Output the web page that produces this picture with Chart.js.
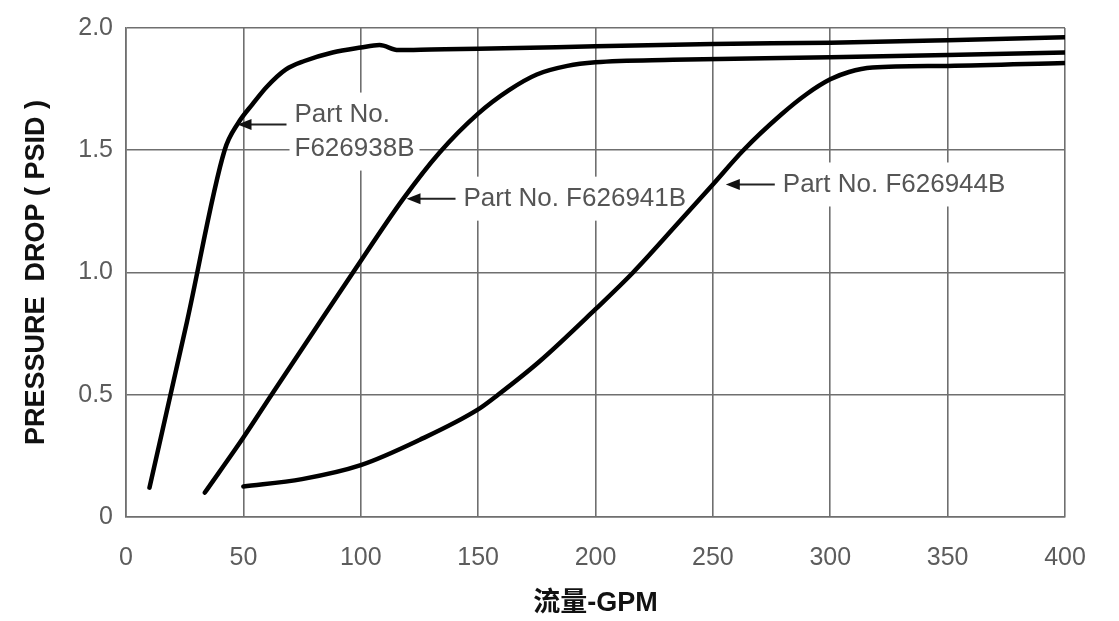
<!DOCTYPE html>
<html>
<head>
<meta charset="utf-8">
<script src="https://cdn.jsdelivr.net/npm/chart.js@4.4.1/dist/chart.umd.min.js"></script>
<style>
  html, body { margin: 0; padding: 0; background: #fff; }
</style>
</head>
<body>
<canvas id="chart" width="1119" height="621"></canvas>
<script>
// Flow (GPM) vs pressure drop (PSID)
const flow938 = [10, 26, 42, 47.7, 54, 60, 68, 76, 88, 100, 108, 116, 130, 150, 200, 250, 300, 350, 400];
const drop938 = [0.12, 0.8, 1.5, 1.61, 1.69, 1.76, 1.83, 1.865, 1.9, 1.92, 1.93, 1.91, 1.912, 1.915, 1.925, 1.935, 1.94, 1.95, 1.962];

const flow941 = [33.6, 50, 62, 80, 96.7, 118, 133.5, 150, 163, 175, 188, 200, 233, 300, 350, 400];
const drop941 = [0.1, 0.325, 0.5, 0.76, 1.0, 1.3, 1.49, 1.65, 1.745, 1.81, 1.845, 1.86, 1.87, 1.88, 1.89, 1.9];

const flow944 = [50, 75, 100, 125, 150, 158.5, 176, 200, 216, 235, 250, 263, 279, 290, 300, 308, 318, 350, 400];
const drop944 = [0.125, 0.155, 0.212, 0.315, 0.44, 0.5, 0.635, 0.85, 1.0, 1.2, 1.36, 1.5, 1.645, 1.73, 1.79, 1.82, 1.838, 1.845, 1.857];

// Axis ticks
const xTicks = [0, 50, 100, 150, 200, 250, 300, 350, 400];
const yTicks = [0, 0.5, 1.0, 1.5, 2.0];

// Callout labels: arrow tip (flow, drop) and text lines
const partLabels = [
  { tip: [47.5, 1.605], lines: ['Part No.', 'F626938B'] },
  { tip: [119.5, 1.302], lines: ['Part No. F626941B'] },
  { tip: [255.5, 1.36], lines: ['Part No. F626944B'] }
];

const toPoints = (xs, ys) => xs.map((x, i) => ({ x, y: ys[i] }));

const lineStyle = {
  borderColor: '#000',
  borderWidth: 4.5,
  pointRadius: 0,
  fill: false,
  cubicInterpolationMode: 'monotone',
  borderCapStyle: 'round'
};

const FONT = '"Liberation Sans", Arial, "Noto Sans CJK SC", sans-serif';

// Draw the arrows and part numbers (under the curves, over the grid)
const calloutPlugin = {
  id: 'callouts',
  beforeDatasetsDraw(chart) {
    const { ctx, scales: { x, y } } = chart;
    ctx.save();
    ctx.font = '26px ' + FONT;
    ctx.textBaseline = 'middle';
    partLabels.forEach(note => {
      const tx = x.getPixelForValue(note.tip[0]);
      const ty = y.getPixelForValue(note.tip[1]);
      const lineEnd = tx + 49;
      const textX = lineEnd + 8;
      const widths = note.lines.map(t => ctx.measureText(t).width);
      const w = Math.max(...widths);
      const firstY = note.lines.length > 1 ? ty - 10 : ty;
      const lastY = firstY + (note.lines.length - 1) * 34;

      // white patch that interrupts the grid
      ctx.fillStyle = '#fff';
      ctx.fillRect(textX - 5, firstY - 22, w + 10, lastY - firstY + 44);

      // arrow
      ctx.strokeStyle = '#222';
      ctx.lineWidth = 2;
      ctx.beginPath();
      ctx.moveTo(tx + 8, ty);
      ctx.lineTo(lineEnd, ty);
      ctx.stroke();
      ctx.fillStyle = '#111';
      ctx.beginPath();
      ctx.moveTo(tx, ty);
      ctx.lineTo(tx + 14, ty - 5.5);
      ctx.lineTo(tx + 14, ty + 5.5);
      ctx.closePath();
      ctx.fill();

      // text
      ctx.fillStyle = '#555';
      ctx.textAlign = 'left';
      note.lines.forEach((t, i) => ctx.fillText(t, textX, firstY + i * 34));
    });
    ctx.restore();
  }
};

new Chart(document.getElementById('chart'), {
  type: 'line',
  data: {
    datasets: [
      { label: 'F626938B', data: toPoints(flow938, drop938), ...lineStyle },
      { label: 'F626941B', data: toPoints(flow941, drop941), ...lineStyle },
      { label: 'F626944B', data: toPoints(flow944, drop944), ...lineStyle }
    ]
  },
  options: {
    responsive: false,
    animation: false,
    devicePixelRatio: 1,
    layout: { padding: { top: 23, right: 54, bottom: 0, left: 0 } },
    plugins: {
      legend: { display: false },
      tooltip: { enabled: false }
    },
    scales: {
      x: {
        type: 'linear',
        min: 0,
        max: 400,
        afterBuildTicks: scale => { scale.ticks = xTicks.map(v => ({ value: v })); },
        afterFit: scale => { scale.height = 104; },
        grid: { color: '#6f6f6f', lineWidth: 1.6, drawTicks: false },
        border: { color: '#6f6f6f', width: 1.6 },
        ticks: {
          padding: 26,
          color: '#5c5c5c',
          font: { family: FONT, size: 25 },
          maxRotation: 0
        },
        title: {
          display: true,
          text: '流量-GPM',
          color: '#111',
          font: { family: FONT, size: 27, weight: 'bold' },
          padding: { top: 0, bottom: 1 }
        }
      },
      y: {
        min: 0,
        max: 2,
        afterBuildTicks: scale => { scale.ticks = yTicks.map(v => ({ value: v })); },
        afterFit: scale => { scale.width = 126; },
        grid: { color: '#6f6f6f', lineWidth: 1.6, drawTicks: false },
        border: { color: '#6f6f6f', width: 1.6 },
        ticks: {
          padding: 13,
          color: '#5c5c5c',
          font: { family: FONT, size: 25 },
          callback: v => (v === 0 ? '0' : v.toFixed(1))
        },
        title: {
          display: true,
          text: 'PRESSURE  DROP ( PSID )',
          color: '#111',
          font: { family: FONT, size: 27, weight: 'bold' },
          padding: { top: 20, bottom: 0 }
        }
      }
    }
  },
  plugins: [calloutPlugin]
});
</script>
</body>
</html>
